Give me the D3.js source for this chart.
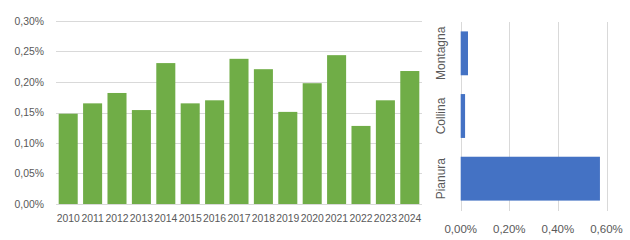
<!DOCTYPE html>
<meta charset="utf-8">
<style>
body { margin: 0; background: #fff; }
text { font-family: "Liberation Sans", Arial, sans-serif; fill: #595959; }
.grid line { stroke: #d9d9d9; stroke-width: 1px; shape-rendering: crispEdges; }
</style>
<body>
<svg width="630" height="240"></svg>
<script src="https://d3js.org/d3.v7.min.js"></script>
<script>

// annual values (%)
var years = ["2010","2011","2012","2013","2014","2015","2016","2017","2018","2019","2020","2021","2022","2023","2024"];
var yearValues = [0.148, 0.165, 0.182, 0.154, 0.231, 0.165, 0.170, 0.238, 0.221, 0.151, 0.198, 0.244, 0.128, 0.170, 0.218];
var yTicks = [0, 0.05, 0.10, 0.15, 0.20, 0.25, 0.30];

// by zone (%)
var zones = ["Montagna", "Collina", "Pianura"];
var zoneValues = [0.030, 0.018, 0.573];
var xTicks = [0, 0.2, 0.4, 0.6];

var fmt = function(d) { return d.toFixed(2).replace(".", ",") + "%"; };

var svg = d3.select("svg");

// ---- left chart
var x = d3.scaleBand().domain(years).range([56, 422]).paddingInner(0.22).paddingOuter(0.11);
var y = d3.scaleLinear().domain([0, 0.30]).range([204, 21]);

svg.append("g")
  .attr("class", "grid")
  .selectAll("line").data(yTicks)
  .enter().append("line")
  .attr("x1", 56).attr("x2", 422)
  .attr("y1", function(d) { return Math.round(y(d)) + 0.5; })
  .attr("y2", function(d) { return Math.round(y(d)) + 0.5; });

svg.append("g").selectAll("rect").data(yearValues)
  .enter().append("rect")
  .attr("x", function(d, i) { return x(years[i]); })
  .attr("width", x.bandwidth())
  .attr("y", function(d) { return y(d); })
  .attr("height", function(d) { return y(0) - y(d); })
  .attr("fill", "#70AD47");

svg.append("g").selectAll("text").data(yTicks)
  .enter().append("text")
  .attr("x", 44)
  .attr("y", function(d) { return y(d); })
  .attr("dy", "0.35em")
  .attr("text-anchor", "end")
  .style("font-size", "10.4px")
  .text(fmt);

svg.append("g").selectAll("text").data(years)
  .enter().append("text")
  .attr("x", function(d) { return x(d) + x.bandwidth() / 2; })
  .attr("y", 222)
  .attr("text-anchor", "middle")
  .style("font-size", "10.4px")
  .text(function(d) { return d; });

// ---- right chart
var x2 = d3.scaleLinear().domain([0, 0.6]).range([460.7, 606.5]);
var y2 = d3.scaleBand().domain(zones).range([22, 210]).paddingInner(0.3).paddingOuter(0.15);

svg.append("g")
  .attr("class", "grid")
  .selectAll("line").data(xTicks)
  .enter().append("line")
  .attr("y1", 22).attr("y2", 211)
  .attr("x1", function(d) { return Math.round(x2(d)) + 0.5; })
  .attr("x2", function(d) { return Math.round(x2(d)) + 0.5; });

svg.append("g").selectAll("rect").data(zoneValues)
  .enter().append("rect")
  .attr("x", x2(0))
  .attr("y", function(d, i) { return y2(zones[i]); })
  .attr("height", y2.bandwidth())
  .attr("width", function(d) { return x2(d) - x2(0); })
  .attr("fill", "#4472C4");

svg.append("g").selectAll("text").data(xTicks)
  .enter().append("text")
  .attr("x", function(d) { return x2(d); })
  .attr("y", 233)
  .attr("text-anchor", "middle")
  .style("font-size", "11.5px")
  .text(fmt);

svg.append("g").selectAll("text").data(zones)
  .enter().append("text")
  .attr("transform", function(d) {
    return "translate(445," + (y2(d) + y2.bandwidth() / 2) + ") rotate(-90)";
  })
  .attr("text-anchor", "middle")
  .style("font-size", "12px")
  .text(function(d) { return d; });

</script>
</body>
